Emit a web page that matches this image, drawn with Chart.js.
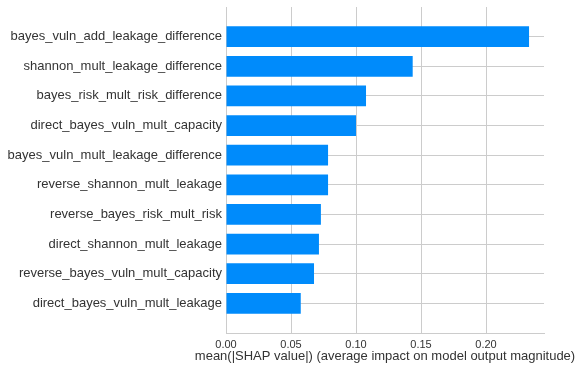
<!DOCTYPE html>
<html>
<head>
<meta charset="utf-8">
<script src="https://cdn.jsdelivr.net/npm/chart.js@4"></script>
<style>
html,body{margin:0;padding:0;background:#fff;}
#wrap{width:582px;height:371px;}
</style>
</head>
<body>
<div id="wrap"><canvas id="c" width="582" height="371"></canvas></div>
<script>
const categories = [
  "bayes_vuln_add_leakage_difference",
  "shannon_mult_leakage_difference",
  "bayes_risk_mult_risk_difference",
  "direct_bayes_vuln_mult_capacity",
  "bayes_vuln_mult_leakage_difference",
  "reverse_shannon_mult_leakage",
  "reverse_bayes_risk_mult_risk",
  "direct_shannon_mult_leakage",
  "reverse_bayes_vuln_mult_capacity",
  "direct_bayes_vuln_mult_leakage"
];
const meanAbsShap = [0.2331, 0.1436, 0.1077, 0.1000, 0.0785, 0.0785, 0.0730, 0.0715, 0.0677, 0.0575];
const xTicks = [0.00, 0.05, 0.10, 0.15, 0.20];
const xMax = 0.2446;
const xTitle = "mean(|SHAP value|) (average impact on model output magnitude)";

const labels = ["", ...categories, ""];
const values = [null, ...meanAbsShap, null];
const FONT = "'Liberation Sans', Arial, sans-serif";
const GRID = "#cccccc";

const xTitlePlugin = {
  id: "xTitlePlugin",
  afterDraw(chart) {
    const ctx = chart.ctx;
    const a = chart.chartArea;
    ctx.save();
    ctx.font = "13px " + FONT;
    ctx.fillStyle = "#333333";
    ctx.textAlign = "center";
    ctx.textBaseline = "middle";
    ctx.fillText(xTitle, (a.left + a.right) / 2, a.bottom + 23);
    ctx.restore();
  }
};

new Chart(document.getElementById("c"), {
  type: "bar",
  data: {
    labels: labels,
    datasets: [{
      data: values,
      backgroundColor: "#008bfb",
      borderWidth: 0,
      barPercentage: 0.7,
      categoryPercentage: 1.0
    }]
  },
  plugins: [xTitlePlugin],
  options: {
    indexAxis: "y",
    responsive: false,
    animation: false,
    layout: { padding: { top: 7, right: 38, left: 0, bottom: 0 } },
    plugins: { legend: { display: false }, tooltip: { enabled: false } },
    scales: {
      y: {
        type: "category",
        offset: false,
        grid: {
          offset: false,
          drawTicks: false,
          color: (ctx) => (ctx.index === 0 ? "rgba(0,0,0,0)" : GRID),
          lineWidth: 1
        },
        border: { display: true, color: GRID },
        ticks: {
          padding: 4,
          color: "#333333",
          font: { family: FONT, size: 13 },
          autoSkip: false
        },
        afterFit: (s) => { s.width = 226; s.paddingTop = 0; s.paddingBottom = 0; }
      },
      x: {
        type: "linear",
        min: 0,
        max: xMax,
        afterBuildTicks: (s) => { s.ticks = xTicks.map(v => ({ value: v })); },
        grid: { color: GRID, drawTicks: false, lineWidth: 1 },
        border: { display: true, color: GRID },
        ticks: {
          padding: 5,
          color: "#333333",
          font: { family: FONT, size: 11 },
          callback: (v) => Number(v).toFixed(2)
        },
        afterFit: (s) => { s.height = 38; s.paddingLeft = 0; s.paddingRight = 0; }
      }
    }
  }
});
</script>
</body>
</html>
